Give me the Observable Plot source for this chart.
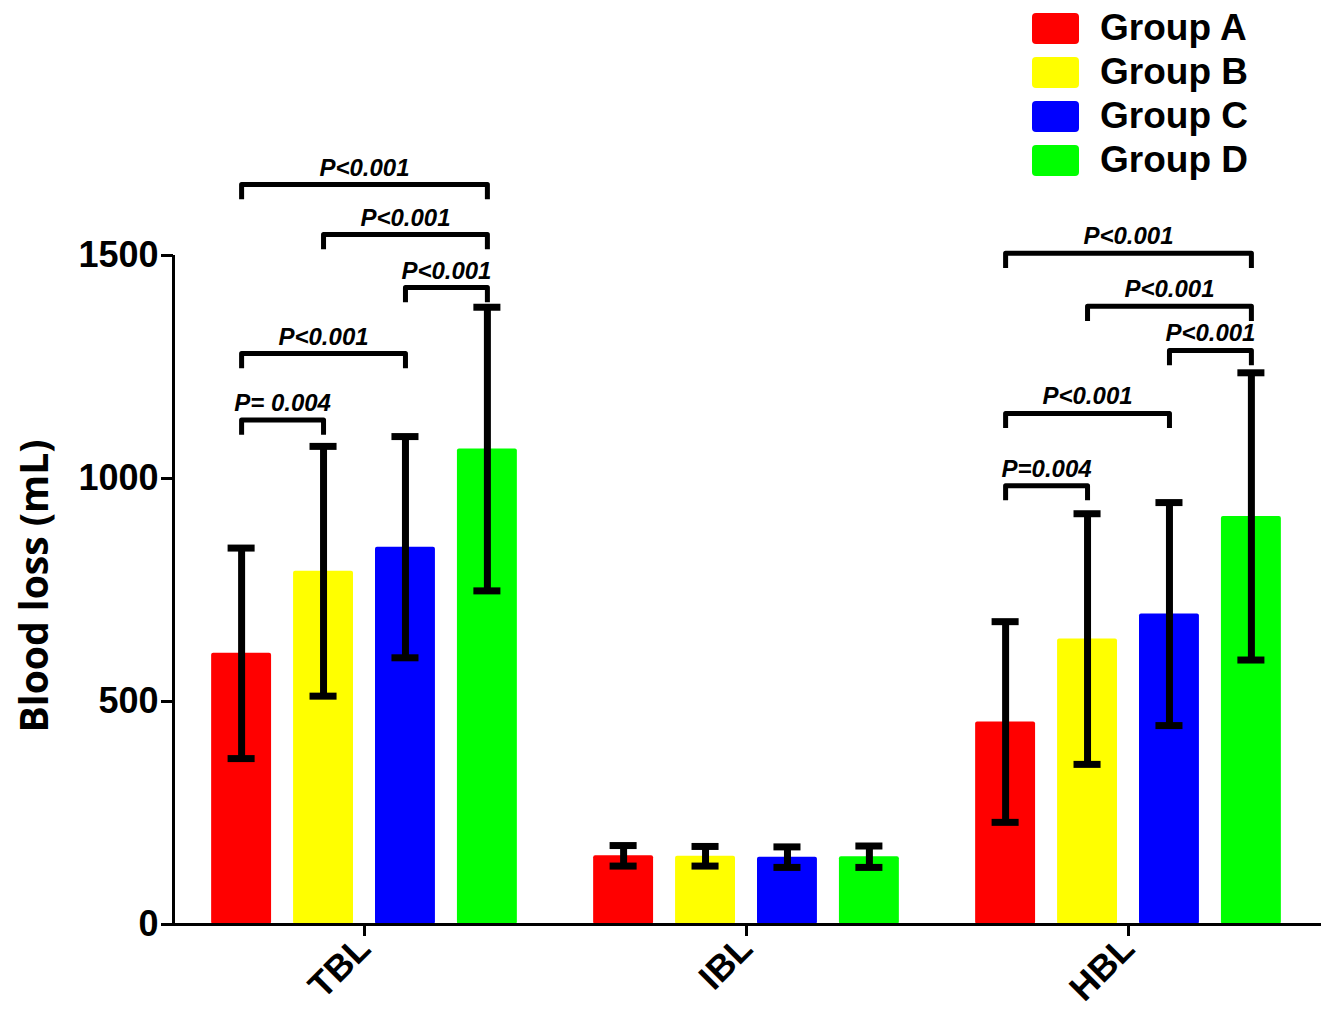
<!DOCTYPE html>
<html>
<head>
<meta charset="utf-8">
<script src="https://cdn.jsdelivr.net/npm/d3@7"></script>
<script src="https://cdn.jsdelivr.net/npm/@observablehq/plot@0.6"></script>
<style>
  html, body { margin: 0; padding: 0; background: #fff; overflow: hidden; }
  #wrap { position: relative; width: 1321px; height: 1013px; }
  #legend { position: absolute; left: 1032px; top: 6px; font-family: "Liberation Sans", Arial, sans-serif; font-weight: bold; font-size: 37px; color: #000; }
  .item { display: flex; align-items: center; height: 44px; }
  .sw { width: 47px; height: 31px; border-radius: 4px; margin-right: 21px; }
  #ylabel { position: absolute; left: 32px; top: 586px; transform: translate(-50%, -50%) rotate(-90deg); font-family: "Open Sans", sans-serif; font-weight: bold; font-size: 39px; white-space: nowrap; color: #000; }
</style>
</head>
<body>
<div id="wrap">
  <div id="chart"></div>
  <div id="ylabel">Blood loss (mL)</div>
  <div id="legend"></div>
</div>
<script>
// ---- data ----
const categories = ["TBL", "IBL", "HBL"];
const groups = ["Group A", "Group B", "Group C", "Group D"];
const groupColors = ["#ff0000", "#ffff00", "#0000ff", "#00ff00"];

const meanTBL = [608, 792, 846, 1066];
const sdTBL   = [236, 280, 248, 318];
const meanIBL = [154, 153, 151, 152];
const sdIBL   = [23, 22, 23, 24];
const meanHBL = [454, 640, 696, 915];
const sdHBL   = [225, 281, 250, 322];

const yTicks = [0, 500, 1000, 1500];

// significance brackets
const bracketCat   = ["TBL", "TBL", "TBL", "TBL", "TBL", "HBL", "HBL", "HBL", "HBL", "HBL"];
const bracketFrom  = ["Group A", "Group A", "Group C", "Group B", "Group A", "Group A", "Group A", "Group C", "Group B", "Group A"];
const bracketTo    = ["Group B", "Group C", "Group D", "Group D", "Group D", "Group B", "Group C", "Group D", "Group D", "Group D"];
const bracketLevel = [1131, 1280, 1428, 1547, 1659, 984, 1146, 1287, 1386, 1505];
const bracketLabel = ["P= 0.004", "P<0.001", "P<0.001", "P<0.001", "P<0.001", "P=0.004", "P<0.001", "P<0.001", "P<0.001", "P<0.001"];

// ---- tables built from the arrays ----
const means = {TBL: meanTBL, IBL: meanIBL, HBL: meanHBL};
const sds = {TBL: sdTBL, IBL: sdIBL, HBL: sdHBL};
const rows = categories.flatMap(cat => groups.map((g, i) => ({
  cat, group: g, gi: i, mean: means[cat][i], sd: sds[cat][i]
})));

const brackets = bracketCat.map((cat, k) => ({
  id: k, cat,
  fi: groups.indexOf(bracketFrom[k]),
  ti: groups.indexOf(bracketTo[k]),
  level: bracketLevel[k],
  label: bracketLabel[k]
}));

// style constants
const legDrop = 33;      // bracket leg length in mL units
const capHalf = 0.165;   // half width of error-bar caps, in bar units
const xDomain = [-0.3313, 4.3313];

const bracketPts = brackets.flatMap(b => [
  {id: b.id, cat: b.cat, x: b.fi + 0.5, y: b.level - legDrop},
  {id: b.id, cat: b.cat, x: b.fi + 0.5, y: b.level},
  {id: b.id, cat: b.cat, x: b.ti + 0.5, y: b.level},
  {id: b.id, cat: b.cat, x: b.ti + 0.5, y: b.level - legDrop}
]);

const font = '"Liberation Sans", Arial, sans-serif';

const chart = Plot.plot({
  width: 1321,
  height: 1013,
  marginTop: 255,
  marginBottom: 89,
  marginLeft: 172,
  marginRight: 2,
  style: {fontFamily: font, background: "#fff", color: "#000"},
  fx: {domain: categories, padding: 0, label: null},
  x: {domain: xDomain, axis: null},
  y: {domain: [0, 1500], axis: null},
  color: {domain: groups, range: groupColors},
  marks: [
    Plot.rectY(rows, {
      fx: "cat", x1: d => d.gi, x2: d => d.gi + 1, y1: 0, y2: "mean",
      fill: "group", insetLeft: 11, insetRight: 11, rx: 2
    }),
    Plot.ruleX(rows, {
      fx: "cat", x: d => d.gi + 0.5, y1: d => d.mean - d.sd, y2: d => d.mean + d.sd,
      stroke: "#000", strokeWidth: 7
    }),
    Plot.ruleY(rows, {
      fx: "cat", x1: d => d.gi + 0.5 - capHalf, x2: d => d.gi + 0.5 + capHalf, y: d => d.mean + d.sd,
      stroke: "#000", strokeWidth: 7
    }),
    Plot.ruleY(rows, {
      fx: "cat", x1: d => d.gi + 0.5 - capHalf, x2: d => d.gi + 0.5 + capHalf, y: d => d.mean - d.sd,
      stroke: "#000", strokeWidth: 7
    }),
    Plot.line(bracketPts, {
      fx: "cat", x: "x", y: "y", z: "id", stroke: "#000", strokeWidth: 5,
      strokeLinejoin: "round", strokeLinecap: "butt"
    }),
    Plot.text(brackets, {
      fx: "cat", x: d => (d.fi + d.ti) / 2 + 0.5, y: "level", text: "label",
      lineAnchor: "bottom", dy: -9, fontSize: 24, fontWeight: "bold", fontStyle: "italic",
      fontFamily: font, fill: "#000"
    }),
    // axes
    Plot.ruleY([0], {stroke: "#000", strokeWidth: 3, insetRight: -2}),
    Plot.ruleX([xDomain[0]], {fx: () => "TBL", y1: 0, y2: 1500, stroke: "#000", strokeWidth: 3}),
    Plot.axisY({
      ticks: yTicks, tickFormat: d => String(d), tickSize: 12, tickPadding: 3, strokeWidth: 3, label: null,
      fontSize: 36, fontWeight: "bold", fontFamily: font, fill: "#000", stroke: "#000"
    }),
    Plot.axisFx({
      anchor: "bottom", tickSize: 12, tickPadding: 6, tickRotate: -45, strokeWidth: 3, label: null,
      fontSize: 36, fontWeight: "bold", fontFamily: font, fill: "#000", stroke: "#000"
    })
  ]
});
document.getElementById("chart").appendChild(chart);

// legend (HTML, above the plot area)
const legend = document.getElementById("legend");
groups.forEach((g, i) => {
  const item = document.createElement("div");
  item.className = "item";
  const sw = document.createElement("div");
  sw.className = "sw";
  sw.style.background = groupColors[i];
  const label = document.createElement("span");
  label.textContent = g;
  item.appendChild(sw);
  item.appendChild(label);
  legend.appendChild(item);
});
</script>
</body>
</html>
